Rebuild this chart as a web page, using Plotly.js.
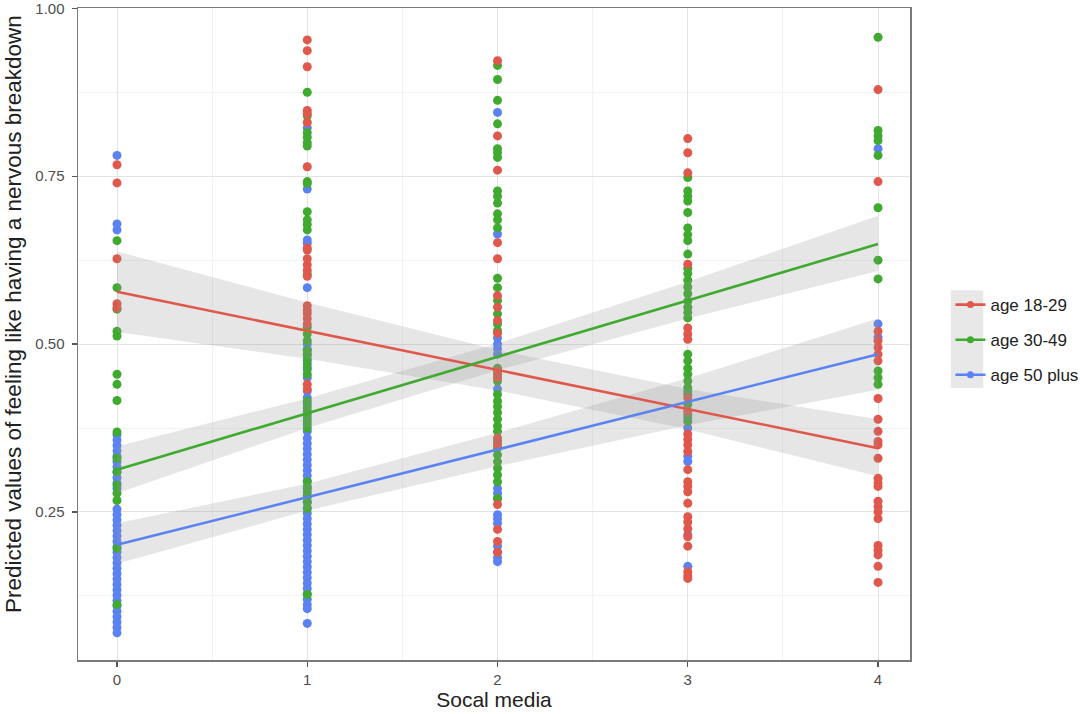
<!DOCTYPE html>
<html>
<head>
<meta charset="utf-8">
<script src="https://cdn.plot.ly/plotly-3.0.1.min.js"></script>
<style>html,body{margin:0;padding:0;background:#fff;}#chart{width:1080px;height:714px;}</style>
</head>
<body>
<div id="chart"></div>
<script>
// ---- data ----
const groups = ["age 18-29", "age 30-49", "age 50 plus"];
const xLevels = [0, 1, 2, 3, 4];
const tickLabelsX = ["0", "1", "2", "3", "4"];
const tickValsY = [0.25, 0.5, 0.75, 1.0];
const tickLabelsY = ["0.25", "0.50", "0.75", "1.00"];

// predicted values per social-media level, age 18-29
const red_x0 = [0.767, 0.740, 0.627, 0.560, 0.554];
const red_x1 = [0.953, 0.937, 0.913, 0.848, 0.843, 0.830, 0.764, 0.643, 0.640, 0.627, 0.618, 0.610, 0.601, 0.557, 0.550, 0.545, 0.538, 0.530, 0.440, 0.433];
const red_x2 = [0.922, 0.810, 0.759, 0.651, 0.627, 0.572, 0.555, 0.535, 0.516, 0.460, 0.450, 0.360, 0.350, 0.261, 0.224, 0.206, 0.190];
const red_x3 = [0.806, 0.785, 0.755, 0.619, 0.524, 0.515, 0.507, 0.420, 0.400, 0.366, 0.358, 0.350, 0.340, 0.313, 0.295, 0.288, 0.280, 0.263, 0.243, 0.235, 0.225, 0.213, 0.199, 0.161, 0.155, 0.151];
const red_x4 = [0.879, 0.742, 0.519, 0.505, 0.495, 0.485, 0.475, 0.419, 0.388, 0.370, 0.355, 0.350, 0.330, 0.300, 0.293, 0.288, 0.266, 0.258, 0.250, 0.240, 0.200, 0.193, 0.186, 0.169, 0.145];

// age 30-49
const green_x0 = [0.654, 0.584, 0.552, 0.519, 0.512, 0.455, 0.440, 0.416, 0.369, 0.330, 0.310, 0.290, 0.278, 0.267, 0.196, 0.112];
const green_x1 = [0.875, 0.840, 0.815, 0.808, 0.800, 0.795, 0.742, 0.739, 0.697, 0.685, 0.678, 0.670, 0.604, 0.525, 0.515, 0.505, 0.490, 0.484, 0.475, 0.465, 0.455, 0.415, 0.405, 0.395, 0.385, 0.375, 0.295, 0.285, 0.275, 0.265, 0.255, 0.127];
const green_x2 = [0.915, 0.894, 0.863, 0.828, 0.791, 0.785, 0.778, 0.728, 0.720, 0.710, 0.694, 0.685, 0.673, 0.598, 0.584, 0.565, 0.545, 0.530, 0.520, 0.464, 0.455, 0.445, 0.425, 0.415, 0.407, 0.398, 0.388, 0.378, 0.370, 0.355, 0.345, 0.335, 0.325, 0.315, 0.305, 0.295, 0.270];
const green_x3 = [0.748, 0.728, 0.720, 0.713, 0.696, 0.673, 0.663, 0.654, 0.634, 0.613, 0.605, 0.595, 0.585, 0.575, 0.564, 0.555, 0.547, 0.539, 0.485, 0.475, 0.464, 0.455, 0.445, 0.435, 0.425, 0.410, 0.395, 0.385];
const green_x4 = [0.957, 0.818, 0.810, 0.803, 0.781, 0.703, 0.625, 0.597, 0.460, 0.450, 0.440];

// age 50 plus
const blue_x0 = [0.781, 0.679, 0.670, 0.365, 0.357, 0.349, 0.341, 0.333, 0.325, 0.317, 0.309, 0.301, 0.293, 0.285, 0.254, 0.246, 0.238, 0.230, 0.222, 0.214, 0.206, 0.198, 0.190, 0.182, 0.174, 0.166, 0.158, 0.150, 0.142, 0.134, 0.126, 0.118, 0.110, 0.102, 0.094, 0.086, 0.078, 0.070];
const blue_x1 = [0.822, 0.731, 0.655, 0.650, 0.584, 0.500, 0.492, 0.485, 0.478, 0.470, 0.462, 0.450, 0.430, 0.420, 0.410, 0.400, 0.390, 0.380, 0.370, 0.360, 0.352, 0.344, 0.336, 0.328, 0.320, 0.312, 0.304, 0.296, 0.288, 0.280, 0.272, 0.264, 0.256, 0.248, 0.240, 0.232, 0.224, 0.216, 0.208, 0.200, 0.192, 0.184, 0.176, 0.168, 0.160, 0.152, 0.144, 0.136, 0.128, 0.120, 0.112, 0.106, 0.084];
const blue_x2 = [0.845, 0.664, 0.509, 0.500, 0.493, 0.485, 0.433, 0.285, 0.278, 0.270, 0.246, 0.240, 0.233, 0.199, 0.190, 0.182, 0.176];
const blue_x3 = [0.430, 0.390, 0.375, 0.333, 0.325, 0.216, 0.169];
const blue_x4 = [0.791, 0.530, 0.510];

// fitted regression lines (value at x = 0 and x = 4)
const fitX = [0, 4];
const fit_red = [0.578, 0.345];
const fit_green = [0.313, 0.649];
const fit_blue = [0.201, 0.485];

// confidence band edges at x = 0..4
const band_red_lo = [0.518, 0.478, 0.431, 0.373, 0.303];
const band_red_hi = [0.638, 0.562, 0.491, 0.433, 0.388];
const band_green_lo = [0.278, 0.375, 0.461, 0.538, 0.609];
const band_green_hi = [0.348, 0.419, 0.501, 0.593, 0.691];
const band_blue_lo = [0.173, 0.252, 0.318, 0.379, 0.432];
const band_blue_hi = [0.233, 0.292, 0.368, 0.449, 0.538];

// ---- build traces ----
const colors = ["#E0574B", "#3FAA2F", "#5B82F2"];
const pointsByGroup = [
  [red_x0, red_x1, red_x2, red_x3, red_x4],
  [green_x0, green_x1, green_x2, green_x3, green_x4],
  [blue_x0, blue_x1, blue_x2, blue_x3, blue_x4]
];
const fits = [fit_red, fit_green, fit_blue];
const bands = [[band_red_lo, band_red_hi], [band_green_lo, band_green_hi], [band_blue_lo, band_blue_hi]];

const traces = [];
// points: blue first, then green, then red on top
[2, 1, 0].forEach(g => {
  const xs = [], ys = [];
  pointsByGroup[g].forEach((vals, i) => {
    vals.forEach(v => { xs.push(xLevels[i]); ys.push(v); });
  });
  traces.push({
    type: "scatter", mode: "markers", x: xs, y: ys,
    marker: {color: colors[g], size: 9, line: {width: 0}},
    showlegend: false, hoverinfo: "skip"
  });
});
// confidence bands over the points
[0, 1, 2].forEach(g => {
  const lo = bands[g][0], hi = bands[g][1];
  traces.push({
    type: "scatter", mode: "lines",
    x: xLevels.concat(xLevels.slice().reverse()),
    y: hi.concat(lo.slice().reverse()),
    fill: "toself", fillcolor: "rgba(150,150,150,0.24)",
    line: {width: 0, color: "rgba(0,0,0,0)"},
    showlegend: false, hoverinfo: "skip"
  });
});
// fitted lines
[0, 1, 2].forEach(g => {
  traces.push({
    type: "scatter", mode: "lines", x: fitX, y: fits[g],
    line: {color: colors[g], width: 2.6},
    showlegend: false, hoverinfo: "skip"
  });
});
// legend entries
[0, 1, 2].forEach(g => {
  traces.push({
    type: "scatter", mode: "lines+markers", x: [null], y: [null],
    name: groups[g], legendgroup: "g" + g,
    line: {color: colors[g], width: 2.6},
    marker: {color: colors[g], size: 7}
  });
});

const axisCommon = {
  showline: true, mirror: true, linecolor: "#7a7a7a", linewidth: 1.5,
  showgrid: true, gridcolor: "#e3e3e3", gridwidth: 1,
  zeroline: false,
  ticks: "outside", ticklen: 5, tickwidth: 1.3, tickcolor: "#555",
  ticklabeloverflow: "allow",
  tickfont: {family: "Liberation Sans, Arial, sans-serif", size: 15, color: "#4d4d4d"}
};

const layout = {
  width: 1080, height: 714,
  margin: {l: 78, r: 170, t: 8, b: 54, autoexpand: false},
  paper_bgcolor: "#ffffff", plot_bgcolor: "#ffffff",
  font: {family: "Liberation Sans, Arial, sans-serif", color: "#222"},
  xaxis: Object.assign({}, axisCommon, {
    range: [-0.205, 4.168], tickvals: xLevels, ticktext: tickLabelsX,
    ticklabelstandoff: 0,
    minor: {dtick: 0.5, tick0: 0, showgrid: true, gridcolor: "#f2f2f2", ticks: ""},
    title: {text: "Socal media", font: {size: 21, color: "#222"}, standoff: 6}
  }),
  yaxis: Object.assign({}, axisCommon, {
    range: [0.0295, 1.0005], tickvals: tickValsY, ticktext: tickLabelsY,
    ticklabelstandoff: 4,
    minor: {dtick: 0.125, tick0: 0, showgrid: true, gridcolor: "#f2f2f2", ticks: ""}
  }),
  annotations: [{
    text: "Predicted values of feeling like having a nervous breakdown",
    xref: "paper", yref: "paper", x: -0.0769, y: 0.5307,
    xanchor: "center", yanchor: "middle", textangle: -90, showarrow: false,
    font: {family: "Liberation Sans, Arial, sans-serif", size: 22.5, color: "#222"}
  }],
  showlegend: true,
  legend: {
    x: 1.0486, xanchor: "left", y: 0.572, yanchor: "top",
    bgcolor: "rgba(0,0,0,0)", borderwidth: 0,
    font: {family: "Liberation Sans, Arial, sans-serif", size: 17, color: "#222"},
    tracegroupgap: 10, itemwidth: 30
  },
  shapes: [{
    type: "rect", xref: "paper", yref: "paper",
    x0: 1.049, x1: 1.088, y0: 0.417, y1: 0.567,
    fillcolor: "#e8e8e8", line: {width: 0}, layer: "below"
  }]
};

Plotly.newPlot("chart", traces, layout, {staticPlot: true});
</script>
</body>
</html>
